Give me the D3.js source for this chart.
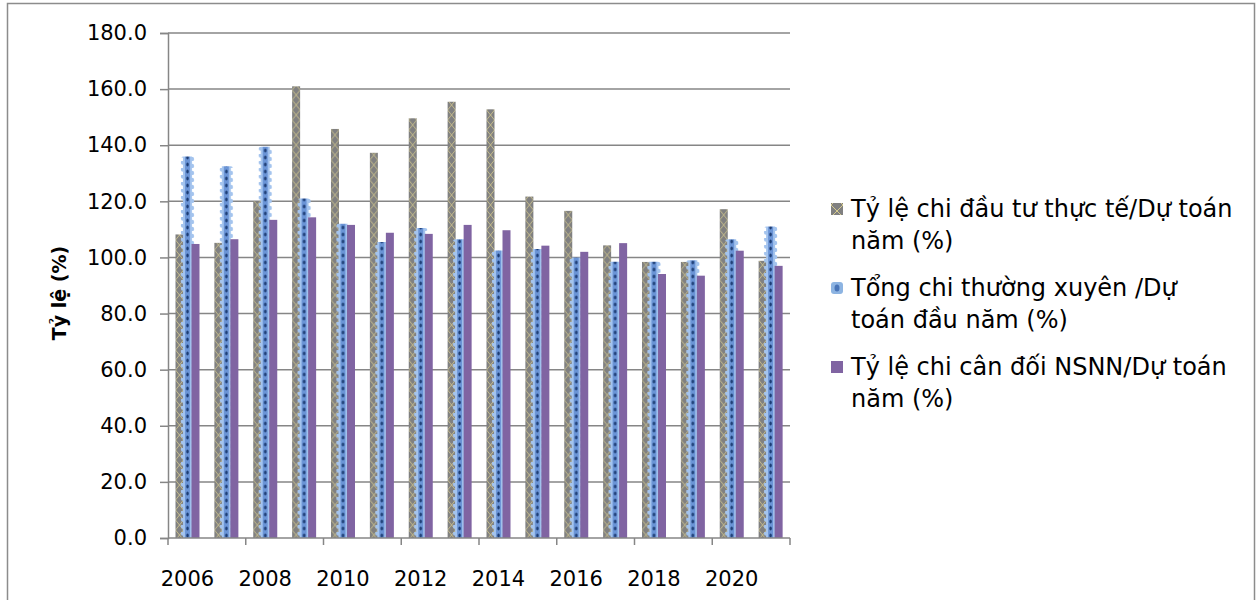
<!DOCTYPE html>
<html>
<head>
<meta charset="utf-8">
<script src="https://cdn.jsdelivr.net/npm/d3@7"></script>
<style>
    body { margin: 0; background: #fff; }
    text { font-family: "DejaVu Sans", Verdana, sans-serif; fill: #000; }
</style>
</head>
<body>
<div id="chart"><svg width="1257" height="600"></svg></div>
<script>
// data
var years = ["2006", "2007", "2008", "2009", "2010", "2011", "2012", "2013",
    "2014", "2015", "2016", "2017", "2018", "2019", "2020", "2021"];
var dauTu = [108.2, 105.2, 120.1, 161.0, 145.8, 137.3, 149.6, 155.5,
    152.8, 121.7, 116.6, 104.3, 98.4, 98.4, 117.2, 98.8];
var thuongXuyen = [136.0, 132.5, 139.5, 121.0, 112.0, 105.5, 110.5, 106.5,
    102.5, 103.0, 100.0, 98.5, 98.5, 99.0, 106.5, 111.0];
var canDoi = [104.8, 106.5, 113.4, 114.3, 111.6, 108.8, 108.4, 111.6,
    109.7, 104.2, 102.0, 105.1, 94.1, 93.5, 102.4, 97.0];
var yTicks = [0, 20, 40, 60, 80, 100, 120, 140, 160, 180];
var legendLines = [
    ["Tỷ lệ chi đầu tư thực tế/Dự toán", "năm (%)"],
    ["Tổng chi thường xuyên /Dự", "toán đầu năm (%)"],
    ["Tỷ lệ chi cân đối NSNN/Dự toán", "năm (%)"]
];

var svg = d3.select("#chart").select("svg");

var grid = "#868686";

// outer frame
svg.append("rect")
    .attr("x", 7.5).attr("y", 3.5)
    .attr("width", 1247).attr("height", 600)
    .attr("fill", "none")
    .attr("stroke", "#8c8c8c")
    .attr("stroke-width", 1.5);

var x = d3.scaleBand()
    .domain(years)
    .range([168, 790])
    .padding(0);

var sub = d3.scaleBand()
    .domain([0, 1, 2])
    .range([7.5, 31.5]);

var y = d3.scaleLinear()
    .domain([0, 180])
    .range([538, 33]);

var step = x.step();
var bw = sub.bandwidth();
var cx = sub(1) + bw / 2;

// patterns and filters
var defs = svg.append("defs");

var pGray = defs.append("pattern")
    .attr("id", "grayLattice")
    .attr("patternUnits", "userSpaceOnUse")
    .attr("x", 168).attr("y", 0)
    .attr("width", step).attr("height", 10);
pGray.append("rect").attr("width", step).attr("height", 10).attr("fill", "#808080");
pGray.append("path")
    .attr("d", "M" + sub(0) + ",0 L" + (sub(0) + bw) + ",10 M" + (sub(0) + bw) + ",0 L" + sub(0) + ",10")
    .attr("stroke", "#d6cb8e")
    .attr("stroke-width", 0.8)
    .attr("fill", "none");

var pGrayLeg = defs.append("pattern")
    .attr("id", "grayLegend")
    .attr("patternUnits", "userSpaceOnUse")
    .attr("width", 12).attr("height", 12);
pGrayLeg.append("rect").attr("width", 12).attr("height", 12).attr("fill", "#808080");
pGrayLeg.append("path")
    .attr("d", "M0,0 L12,12 M12,0 L0,12")
    .attr("stroke", "#d6cb8e")
    .attr("stroke-width", 1)
    .attr("fill", "none");

// blue column: scalloped light edge, mid-blue core, dark dashes
var pBlue = defs.append("pattern")
    .attr("id", "blueDots")
    .attr("patternUnits", "userSpaceOnUse")
    .attr("x", 168).attr("y", 0)
    .attr("width", step).attr("height", 7);
pBlue.append("rect")
    .attr("x", cx - 4.5).attr("width", 9).attr("height", 7)
    .attr("fill", "#a4c4ee");
pBlue.append("circle").attr("cx", cx - 4.5).attr("cy", 1.5).attr("r", 2.2).attr("fill", "#a4c4ee");
pBlue.append("circle").attr("cx", cx + 4.5).attr("cy", 5).attr("r", 2.2).attr("fill", "#a4c4ee");
pBlue.append("rect")
    .attr("x", cx - 2.5).attr("width", 5).attr("height", 7)
    .attr("fill", "#6a94d6");
pBlue.append("ellipse")
    .attr("cx", cx).attr("cy", 3.5)
    .attr("rx", 1.2).attr("ry", 2)
    .attr("fill", "#1c3b72");

defs.append("filter").attr("id", "soft")
    .attr("x", "-50%").attr("width", "200%")
    .append("feGaussianBlur").attr("stdDeviation", 0.55);

// gridlines
svg.append("g")
    .selectAll("line")
    .data(yTicks.filter(function (d) { return d > 0; }))
    .enter().append("line")
    .attr("x1", 168).attr("x2", 790)
    .attr("y1", function (d) { return y(d); })
    .attr("y2", function (d) { return y(d); })
    .attr("stroke", grid)
    .attr("stroke-width", 1.5);

// bars
svg.selectAll("rect.dautu")
    .data(dauTu)
    .enter().append("rect")
    .classed("dautu", true)
    .attr("x", function (d, i) { return x(years[i]) + sub(0); })
    .attr("y", function (d) { return y(d); })
    .attr("width", bw)
    .attr("height", function (d) { return y(0) - y(d); })
    .attr("fill", "url(#grayLattice)");

svg.selectAll("rect.tx")
    .data(thuongXuyen)
    .enter().append("rect")
    .classed("tx", true)
    .attr("x", function (d, i) { return x(years[i]) + cx - 7; })
    .attr("y", function (d) { return y(d); })
    .attr("width", 14)
    .attr("height", function (d) { return y(0) - y(d); })
    .attr("rx", 3)
    .attr("fill", "url(#blueDots)")
    .attr("filter", "url(#soft)");

svg.selectAll("rect.candoi")
    .data(canDoi)
    .enter().append("rect")
    .classed("candoi", true)
    .attr("x", function (d, i) { return x(years[i]) + sub(2); })
    .attr("y", function (d) { return y(d); })
    .attr("width", bw)
    .attr("height", function (d) { return y(0) - y(d); })
    .attr("fill", "#8064a2");

// y axis
var yAxis = svg.append("g")
    .attr("transform", "translate(168,0)")
    .call(d3.axisLeft(y)
        .tickValues(yTicks)
        .tickFormat(d3.format(".1f"))
        .tickSize(8)
        .tickPadding(13));
yAxis.select(".domain").attr("stroke", grid).attr("stroke-width", 1.5);
yAxis.selectAll(".tick line").attr("stroke", grid).attr("stroke-width", 1.5);
yAxis.selectAll(".tick text")
    .style("font-family", "DejaVu Sans")
    .style("font-size", "21px")
    .attr("fill", "#000");

// x axis: ticks every two categories, labels on every other year
var bounds = d3.range(0, years.length + 1, 2);
svg.append("line")
    .attr("x1", 168).attr("x2", 790)
    .attr("y1", y(0)).attr("y2", y(0))
    .attr("stroke", grid).attr("stroke-width", 1.5);
svg.append("g")
    .selectAll("line")
    .data(bounds)
    .enter().append("line")
    .attr("x1", function (d) { return x.range()[0] + d * step; })
    .attr("x2", function (d) { return x.range()[0] + d * step; })
    .attr("y1", y(0)).attr("y2", y(0) + 7)
    .attr("stroke", grid).attr("stroke-width", 1.5);
svg.append("g")
    .selectAll("text")
    .data(years.filter(function (d, i) { return i % 2 === 0; }))
    .enter().append("text")
    .attr("x", function (d) { return x(d) + step / 2; })
    .attr("y", 586)
    .attr("text-anchor", "middle")
    .style("font-size", "21px")
    .text(function (d) { return d; });

// y title
svg.append("text")
    .attr("transform", "translate(66,293) rotate(-90)")
    .attr("text-anchor", "middle")
    .style("font-size", "19px")
    .style("font-weight", "bold")
    .text("Tỷ lệ (%)");

// legend
var legend = svg.append("g")
    .attr("transform", "translate(831,0)");
var legFill = ["url(#grayLegend)", "#8db4e2", "#8064a2"];
var items = legend.selectAll("g")
    .data(legendLines)
    .enter().append("g")
    .attr("transform", function (d, i) { return "translate(0," + (217 + i * 79) + ")"; });
items.append("rect")
    .attr("x", 0).attr("y", -14)
    .attr("width", 12).attr("height", 12)
    .attr("rx", function (d, i) { return i === 1 ? 3 : 0; })
    .attr("fill", function (d, i) { return legFill[i]; })
    .attr("filter", function (d, i) { return i === 1 ? "url(#soft)" : null; });
items.each(function (d, i) {
    if (i === 1) {
        d3.select(this).append("ellipse")
            .attr("cx", 6).attr("cy", -8)
            .attr("rx", 2.5).attr("ry", 3.5)
            .attr("fill", "#4a74b8")
            .attr("filter", "url(#soft)");
    }
});
items.selectAll("text")
    .data(function (d) { return d; })
    .enter().append("text")
    .attr("x", 20)
    .attr("y", function (d, j) { return j * 32; })
    .style("font-size", "24px")
    .text(function (d) { return d; });
</script>
</body>
</html>
